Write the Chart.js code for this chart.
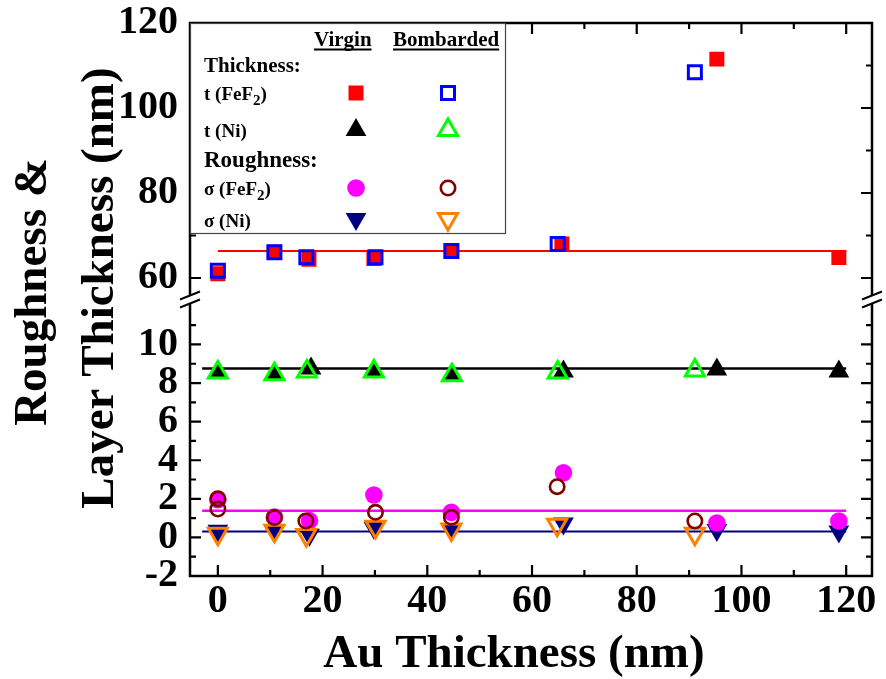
<!DOCTYPE html>
<html>
<head>
<meta charset="utf-8">
<title>Roughness and layer thickness vs Au thickness</title>
<script src="https://cdn.jsdelivr.net/npm/chart.js@4/dist/chart.umd.min.js"></script>
<style>
  html, body { margin: 0; padding: 0; background: #ffffff; }
  canvas { display: block; }
</style>
</head>
<body>
<canvas id="chart" width="886" height="679"></canvas>
<script>
// ---- measured values (nm) ----
// FeF2 layer thickness
const tFeF2VirginX = [0, 10.8, 17.4, 29.8, 44.6, 65.7, 95.3, 118.6];
const tFeF2VirginY = [61.0, 66.05, 64.4, 64.6, 66.35, 68.0, 111.5, 64.8];
const tFeF2BombX   = [0, 10.8, 16.9, 30.1, 44.6, 64.9, 91.1];
const tFeF2BombY   = [61.7, 66.05, 64.9, 64.9, 66.35, 68.0, 108.4];
// Ni layer thickness
const tNiVirginX = [0, 10.8, 17.8, 29.8, 44.7, 66.0, 95.3, 118.6];
const tNiVirginY = [8.6, 8.45, 8.75, 8.65, 8.4, 8.6, 8.7, 8.6];
const tNiBombX   = [0, 10.8, 17.0, 29.8, 44.7, 64.9, 91.1];
const tNiBombY   = [8.55, 8.45, 8.6, 8.6, 8.4, 8.55, 8.65];
// FeF2 roughness
const sFeF2VirginX = [0, 10.8, 17.5, 29.8, 44.6, 66.0, 95.3, 118.6];
const sFeF2VirginY = [1.95, 1.05, 0.87, 2.2, 1.3, 3.35, 0.75, 0.85];
const sFeF2BombX   = [0, 0, 10.8, 16.8, 30.1, 44.6, 64.8, 91.1];
const sFeF2BombY   = [2.0, 1.47, 1.03, 0.85, 1.3, 1.04, 2.63, 0.85];
// Ni roughness
const sNiVirginX = [0, 10.8, 17.5, 29.8, 44.6, 66.0, 95.3, 118.6];
const sNiVirginY = [0.35, 0.35, 0.14, 0.5, 0.38, 0.72, 0.38, 0.3];
const sNiBombX   = [0, 10.8, 16.9, 30.1, 44.6, 64.8, 91.1];
const sNiBombY   = [0.19, 0.35, 0.12, 0.55, 0.41, 0.65, 0.19];

// average levels drawn as horizontal lines
const avgLevels = [66.35, 8.76, 1.38, 0.3];   // t(FeF2), t(Ni), σ(FeF2), σ(Ni)
const avgStartX = [0, -3, -3, -3];
const avgEndX   = [120, 120, 120, 120];

// ---- axis ticks ----
const xMajorTicks = [0, 20, 40, 60, 80, 100, 120];
const xMinorTicks = [10, 30, 50, 70, 90, 110];
const upperMajorTicks = [60, 80, 100, 120];
const upperMinorTicks = [70, 90, 110];
const lowerMajorTicks = [-2, 0, 2, 4, 6, 8, 10];
const lowerMinorTicks = [-1, 1, 3, 5, 7, 9, 11];

const SERIF = "'Liberation Serif', 'Times New Roman', Times, serif";

function pts(xs, ys) { return xs.map((x, i) => ({ x: x, y: ys[i] })); }

function markerSet(xs, ys, axis, style, extra) {
  return Object.assign({
    data: pts(xs, ys),
    yAxisID: axis,
    showLine: false,
    pointStyle: style.pointStyle,
    pointRadius: style.radius,
    pointHoverRadius: style.radius,
    pointRotation: style.rotation || 0,
    pointBackgroundColor: style.fill,
    pointBorderColor: style.stroke,
    pointBorderWidth: style.borderWidth,
    pointHoverBorderWidth: style.borderWidth,
    backgroundColor: style.fill,
    borderColor: style.stroke
  }, extra);
}

function levelLine(i, axis, color, width) {
  return {
    data: [{ x: avgStartX[i], y: avgLevels[i] }, { x: avgEndX[i], y: avgLevels[i] }],
    yAxisID: axis,
    showLine: true,
    borderColor: color,
    borderWidth: width,
    pointRadius: 0,
    pointHoverRadius: 0,
    order: 10
  };
}

const styles = {
  tFeF2V: { pointStyle: 'rect', radius: 10.6, fill: '#ff0000', stroke: '#ff0000', borderWidth: 0 },
  tFeF2B: { pointStyle: 'rect', radius: 9.2, fill: 'rgba(0,0,0,0)', stroke: '#0000ff', borderWidth: 3 },
  tNiV:   { pointStyle: 'triangle', radius: 12, fill: '#000000', stroke: '#000000', borderWidth: 0 },
  tNiB:   { pointStyle: 'triangle', radius: 11, fill: 'rgba(0,0,0,0)', stroke: '#00ff00', borderWidth: 3 },
  sFeF2V: { pointStyle: 'circle', radius: 8.8, fill: '#ff00ff', stroke: '#ff00ff', borderWidth: 0 },
  sFeF2B: { pointStyle: 'circle', radius: 7.2, fill: 'rgba(0,0,0,0)', stroke: '#800000', borderWidth: 2.6 },
  sNiV:   { pointStyle: 'triangle', radius: 12, rotation: 180, fill: '#000080', stroke: '#000080', borderWidth: 0 },
  sNiB:   { pointStyle: 'triangle', radius: 11, rotation: 180, fill: 'rgba(0,0,0,0)', stroke: '#ff8000', borderWidth: 3 }
};

const datasets = [
  levelLine(0, 'yTop', '#ff0000', 2),
  levelLine(1, 'yBot', '#000000', 2.5),
  levelLine(2, 'yBot', '#ff00ff', 2.5),
  levelLine(3, 'yBot', '#000080', 2),
  markerSet(tFeF2VirginX, tFeF2VirginY, 'yTop', styles.tFeF2V, { label: 't (FeF2) virgin', order: 5 }),
  markerSet(tFeF2BombX, tFeF2BombY, 'yTop', styles.tFeF2B, { label: 't (FeF2) bombarded', order: 1 }),
  markerSet(tNiVirginX, tNiVirginY, 'yBot', styles.tNiV, { label: 't (Ni) virgin', order: 5 }),
  markerSet(tNiBombX, tNiBombY, 'yBot', styles.tNiB, { label: 't (Ni) bombarded', order: 1 }),
  markerSet(sFeF2VirginX, sFeF2VirginY, 'yBot', styles.sFeF2V, { label: 'σ (FeF2) virgin', order: 5 }),
  markerSet(sFeF2BombX, sFeF2BombY, 'yBot', styles.sFeF2B, { label: 'σ (FeF2) bombarded', order: 1 }),
  markerSet(sNiVirginX, sNiVirginY, 'yBot', styles.sNiV, { label: 'σ (Ni) virgin', order: 5 }),
  markerSet(sNiBombX, sNiBombY, 'yBot', styles.sNiB, { label: 'σ (Ni) bombarded', order: 1 })
];

const tickFont = { family: SERIF, size: 40, weight: 'bold' };

function fixedTicks(values) {
  return function (scale) { scale.ticks = values.map(v => ({ value: v })); };
}

// ---- frame, inward ticks and axis break ----
function drawFrame(chart) {
  const ctx = chart.ctx;
  const a = chart.chartArea;
  const sx = chart.scales.x, st = chart.scales.yTop, sb = chart.scales.yBot;
  ctx.save();
  ctx.strokeStyle = '#000';
  ctx.lineWidth = 2.5;
  ctx.lineCap = 'butt';
  ctx.strokeRect(a.left, a.top, a.right - a.left, a.bottom - a.top);

  const MAJ = 11, MIN = 6;
  ctx.lineWidth = 2.2;
  ctx.beginPath();
  const xTick = (v, len) => {
    const p = sx.getPixelForValue(v);
    ctx.moveTo(p, a.bottom); ctx.lineTo(p, a.bottom - len);
    ctx.moveTo(p, a.top); ctx.lineTo(p, a.top + len);
  };
  xMajorTicks.forEach(v => xTick(v, MAJ));
  xMinorTicks.forEach(v => xTick(v, MIN));
  const yTick = (scale, v, len) => {
    const p = scale.getPixelForValue(v);
    ctx.moveTo(a.left, p); ctx.lineTo(a.left + len, p);
    ctx.moveTo(a.right, p); ctx.lineTo(a.right - len, p);
  };
  upperMajorTicks.forEach(v => yTick(st, v, MAJ));
  upperMinorTicks.forEach(v => yTick(st, v, MIN));
  lowerMajorTicks.forEach(v => yTick(sb, v, MAJ));
  lowerMinorTicks.forEach(v => yTick(sb, v, MIN));
  ctx.stroke();

  // break symbol "//" on both vertical axes
  const yb = sb.top;
  [a.left, a.right].forEach(xa => {
    const hw = 10, rise = 4, gap = 4;
    ctx.fillStyle = '#fff';
    ctx.beginPath();
    ctx.moveTo(xa - hw, yb - gap + rise);
    ctx.lineTo(xa + hw, yb - gap - rise);
    ctx.lineTo(xa + hw, yb + gap - rise);
    ctx.lineTo(xa - hw, yb + gap + rise);
    ctx.closePath();
    ctx.fill();
    ctx.strokeStyle = '#000';
    ctx.lineWidth = 2;
    ctx.beginPath();
    ctx.moveTo(xa - hw, yb - gap + rise); ctx.lineTo(xa + hw, yb - gap - rise);
    ctx.moveTo(xa - hw, yb + gap + rise); ctx.lineTo(xa + hw, yb + gap - rise);
    ctx.stroke();
  });
  ctx.restore();
}

// ---- two-column key ----
const keyRows = [
  { parts: [['t (FeF', 19, 0], ['2', 15, 5], [')', 19, 0]], baseline: 100, marker: 93, v: 4, b: 5 },
  { parts: [['t (Ni)', 19, 0]], baseline: 137, marker: 130, v: 6, b: 7 },
  { parts: [['σ (FeF', 19, 0], ['2', 15, 5], [')', 19, 0]], baseline: 195, marker: 188, v: 8, b: 9 },
  { parts: [['σ (Ni)', 19, 0]], baseline: 227, marker: 219, v: 10, b: 11 }
];

function drawMarker(ctx, ds, x, y) {
  const opts = {
    pointStyle: ds.pointStyle, radius: ds.pointRadius, rotation: ds.pointRotation,
    borderWidth: ds.pointBorderWidth
  };
  ctx.save();
  ctx.fillStyle = ds.pointBackgroundColor;
  ctx.strokeStyle = ds.pointBorderColor;
  ctx.lineWidth = ds.pointBorderWidth;
  Chart.helpers.drawPoint(ctx, opts, x, y);
  ctx.restore();
}

function drawKey(chart) {
  const ctx = chart.ctx;
  const a = chart.chartArea;
  const L = a.left, T = a.top;
  ctx.save();
  ctx.fillStyle = '#fff';
  ctx.fillRect(L, T, 315, 210);
  ctx.strokeStyle = '#444';
  ctx.lineWidth = 1.2;
  ctx.strokeRect(L + 0.5, T + 0.5, 315, 210);

  ctx.fillStyle = '#000';
  ctx.textBaseline = 'alphabetic';
  ctx.textAlign = 'left';
  // column headers, underlined
  ctx.font = 'bold 21px ' + SERIF;
  const heads = [['Virgin', 314], ['Bombarded', 393]];
  heads.forEach(h => {
    ctx.fillText(h[0], h[1], 46);
    const w = ctx.measureText(h[0]).width;
    ctx.fillRect(h[1], 48.5, w, 2);
  });
  ctx.font = 'bold 21px ' + SERIF;
  ctx.fillText('Thickness:', 204, 72);
  ctx.font = 'bold 23px ' + SERIF;
  ctx.fillText('Roughness:', 204, 167);

  keyRows.forEach(r => {
    let x = 204;
    r.parts.forEach(p => {
      ctx.font = 'bold ' + p[1] + 'px ' + SERIF;
      ctx.fillText(p[0], x, r.baseline + p[2]);
      x += ctx.measureText(p[0]).width;
    });
    drawMarker(ctx, chart.data.datasets[r.v], 356, r.marker);
    drawMarker(ctx, chart.data.datasets[r.b], 448, r.marker);
  });
  ctx.restore();
}

// ---- axis titles ----
function drawTitles(chart) {
  const ctx = chart.ctx;
  ctx.save();
  ctx.fillStyle = '#000';
  ctx.font = 'bold 47px ' + SERIF;
  ctx.textAlign = 'center';
  ctx.textBaseline = 'alphabetic';
  ctx.fillText('Au Thickness (nm)', 514, 667);
  const lines = [['Roughness &', 46, 292], ['Layer Thickness (nm)', 113, 288]];
  lines.forEach(l => {
    ctx.save();
    ctx.translate(l[1], l[2]);
    ctx.rotate(-Math.PI / 2);
    ctx.fillText(l[0], 0, 0);
    ctx.restore();
  });
  ctx.restore();
}

const decorations = {
  id: 'decorations',
  afterDatasetsDraw(chart) {
    drawFrame(chart);
    drawKey(chart);
    drawTitles(chart);
  }
};

function fitY(scale) {
  scale.width = 190;
  scale.paddingTop = 0;
  scale.paddingBottom = 0;
}
function fitX(scale) {
  scale.height = 103;
  scale.paddingLeft = 0;
  scale.paddingRight = 0;
}

const yTickOpts = { font: tickFont, color: '#000', padding: 12, autoSkip: false };

new Chart(document.getElementById('chart'), {
  type: 'scatter',
  data: { datasets: datasets },
  plugins: [decorations],
  options: {
    responsive: false,
    devicePixelRatio: 1,
    animation: false,
    events: [],
    layout: { padding: { top: 23, right: 10, left: 0, bottom: 0 } },
    plugins: { legend: { display: false }, tooltip: { enabled: false } },
    scales: {
      x: {
        type: 'linear', position: 'bottom',
        min: -5.32, max: 124.93,
        afterBuildTicks: fixedTicks(xMajorTicks),
        afterFit: fitX,
        grid: { display: false, drawTicks: false },
        border: { display: false },
        ticks: { font: tickFont, color: '#000', padding: 2, maxRotation: 0, autoSkip: false }
      },
      // lower panel (listed first so it sits at the bottom of the stack)
      yBot: {
        type: 'linear', position: 'left', stack: 'y', stackWeight: 1,
        min: -2, max: 12.33,
        afterBuildTicks: fixedTicks(lowerMajorTicks),
        afterFit: fitY,
        grid: { display: false, drawTicks: false },
        border: { display: false },
        ticks: yTickOpts
      },
      yTop: {
        type: 'linear', position: 'left', stack: 'y', stackWeight: 1,
        min: 54.94, max: 120,
        afterBuildTicks: fixedTicks(upperMajorTicks),
        afterFit: fitY,
        grid: { display: false, drawTicks: false },
        border: { display: false },
        ticks: yTickOpts
      }
    }
  }
});
</script>
</body>
</html>
